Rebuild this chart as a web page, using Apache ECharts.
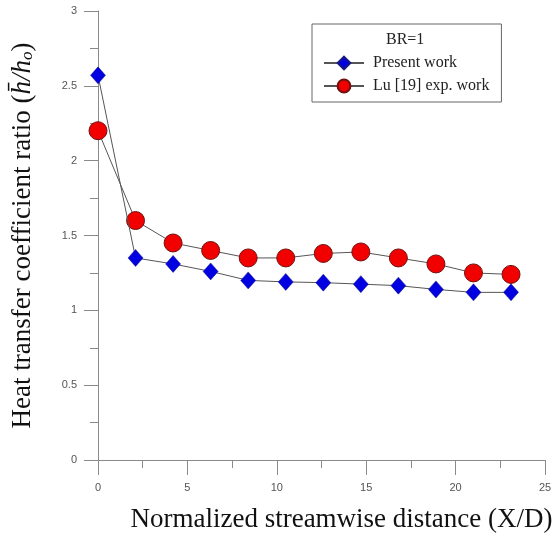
<!DOCTYPE html>
<html>
<head>
<meta charset="utf-8">
<script src="https://cdn.jsdelivr.net/npm/echarts@6/dist/echarts.min.js"></script>
<style>
  html, body { margin: 0; padding: 0; background: #fff; }
  #chart { width: 553px; height: 537px; }
</style>
</head>
<body>
<div id="chart"></div>
<script>
// X/D positions
const xPos = [0, 2.1, 4.2, 6.3, 8.4, 10.5, 12.6, 14.7, 16.8, 18.9, 21, 23.1];
// Present work (simulation)
const presentWork = [2.57, 1.35, 1.31, 1.26, 1.20, 1.19, 1.185, 1.175, 1.165, 1.14, 1.12, 1.12];
// Lu [19] experimental
const luExp = [2.20, 1.60, 1.45, 1.40, 1.35, 1.35, 1.38, 1.39, 1.35, 1.31, 1.25, 1.24];

const chart = echarts.init(document.getElementById('chart'));

const pair = (xs, ys) => xs.map((x, i) => [x, ys[i]]);
const axisGray = '#8a8a8a';
const serif = 'Liberation Serif, serif';
const labelStyle = { color: '#555', fontSize: 11, fontFamily: 'Liberation Sans, Arial, sans-serif' };

chart.setOption({
  animation: false,
  grid: { left: 98, right: 8, top: 11, bottom: 77, outerBoundsMode: 'none' },
  graphic: [{
    type: 'text',
    left: 386, top: 32,
    style: { text: 'BR=1', font: '16px "Liberation Serif", serif', fill: '#222' }
  }],
  legend: {
    orient: 'vertical',
    left: 312, top: 24,
    padding: [31, 12, 8, 11],
    borderColor: '#666', borderWidth: 1,
    itemWidth: 40, itemHeight: 16, itemGap: 7,
    textStyle: { fontFamily: serif, fontSize: 16, color: '#222', padding: [0, 0, 0, 4] },
    data: ['Present work', 'Lu [19] exp. work']
  },
  xAxis: {
    type: 'value', min: 0, max: 25, interval: 5,
    name: 'Normalized streamwise distance (X/D)',
    nameLocation: 'middle', nameGap: 46,
    nameTextStyle: { fontFamily: serif, fontSize: 27, color: '#111', padding: [0, 0, 0, 40] },
    axisLine: { show: true, lineStyle: { color: axisGray } },
    axisTick: { show: true, length: 15, lineStyle: { color: axisGray } },
    minorTick: { show: true, splitNumber: 2, length: 8, lineStyle: { color: axisGray } },
    axisLabel: Object.assign({ margin: 22 }, labelStyle),
    splitLine: { show: false }
  },
  yAxis: {
    type: 'value', min: 0, max: 3, interval: 0.5,
    name: '{n|Heat transfer coefficient ratio (}{i|h\u0304/h}{s|o}{n|)}',
    nameLocation: 'middle', nameGap: 62, nameRotate: 90,
    nameTextStyle: {
      rich: {
        n: { fontFamily: serif, fontSize: 27, color: '#111' },
        i: { fontFamily: serif, fontStyle: 'italic', fontSize: 27, color: '#111' },
        s: { fontFamily: serif, fontStyle: 'italic', fontSize: 17, color: '#111', padding: [10, 0, 0, 0] }
      }
    },
    axisLine: { show: true, lineStyle: { color: axisGray } },
    axisTick: { show: true, length: 14, lineStyle: { color: axisGray } },
    minorTick: { show: true, splitNumber: 2, length: 8, lineStyle: { color: axisGray } },
    axisLabel: Object.assign({ margin: 21 }, labelStyle),
    splitLine: { show: false }
  },
  series: [
    {
      name: 'Present work', type: 'line',
      data: pair(xPos, presentWork),
      symbol: 'diamond', symbolSize: [15, 17],
      lineStyle: { color: '#555', width: 1 },
      itemStyle: { color: '#0000e0', borderColor: '#1a1a80', borderWidth: 0.5 },
      z: 3
    },
    {
      name: 'Lu [19] exp. work', type: 'line',
      data: pair(xPos, luExp),
      symbol: 'circle', symbolSize: 18,
      lineStyle: { color: '#555', width: 1 },
      itemStyle: { color: '#f20000', borderColor: '#701010', borderWidth: 1 },
      z: 2
    }
  ]
});
</script>
</body>
</html>
